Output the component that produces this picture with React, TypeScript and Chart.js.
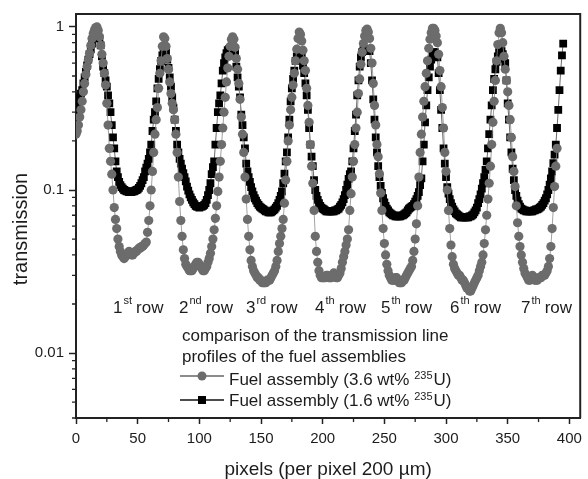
import React, { useEffect, useRef } from 'react';
import { Chart, registerables } from 'chart.js';

Chart.register(...registerables);

// transmission profile, 3.6 wt% 235U (grey circles), one value per detector pixel starting at pixel 0
const GRAY_36 = [
  0.22, 0.23, 0.25, 0.28, 0.31, 0.35, 0.40, 0.45, 0.51, 0.57,
  0.63, 0.69, 0.77, 0.85, 0.91, 0.96, 0.99, 1.0, 0.95, 0.87,
  0.77, 0.68, 0.6, 0.52, 0.44, 0.34, 0.25, 0.18, 0.15, 0.125,
  0.1, 0.078, 0.066, 0.058, 0.05, 0.045, 0.042, 0.040, 0.039, 0.038,
  0.039, 0.040, 0.041, 0.042, 0.041, 0.040, 0.040, 0.041, 0.042, 0.042,
  0.043, 0.044, 0.044, 0.045, 0.045, 0.046, 0.047, 0.048, 0.055, 0.065,
  0.08, 0.1, 0.13, 0.17, 0.22, 0.27, 0.32, 0.42, 0.52, 0.62,
  0.76, 0.87, 0.85, 0.76, 0.64, 0.55, 0.46, 0.39, 0.34, 0.31,
  0.27, 0.22, 0.17, 0.12, 0.085, 0.065, 0.052, 0.043, 0.038, 0.035,
  0.034, 0.033, 0.032, 0.032, 0.032, 0.033, 0.034, 0.035, 0.036, 0.036,
  0.035, 0.034, 0.033, 0.032, 0.032, 0.033, 0.034, 0.036, 0.038, 0.041,
  0.045, 0.05, 0.057, 0.067, 0.08, 0.098, 0.12, 0.15, 0.19, 0.24,
  0.3, 0.37, 0.46, 0.56, 0.66, 0.76, 0.84, 0.87, 0.84, 0.75,
  0.64, 0.55, 0.45, 0.36, 0.28, 0.22, 0.17, 0.12, 0.088, 0.066,
  0.052, 0.043, 0.037, 0.034, 0.032, 0.031, 0.030, 0.029, 0.029, 0.028,
  0.028, 0.027, 0.027, 0.027, 0.027, 0.028, 0.028, 0.028, 0.029, 0.030,
  0.031, 0.032, 0.034, 0.037, 0.042, 0.047, 0.052, 0.058, 0.066, 0.083,
  0.115, 0.15, 0.2, 0.25, 0.31, 0.37, 0.44, 0.52, 0.62, 0.73,
  0.85, 0.93, 0.9, 0.82, 0.72, 0.62, 0.54, 0.42, 0.33, 0.26,
  0.19, 0.14, 0.11, 0.075, 0.052, 0.042, 0.036, 0.032, 0.030, 0.029,
  0.029, 0.029, 0.029, 0.030, 0.030, 0.029, 0.029, 0.029, 0.030, 0.031,
  0.030, 0.029, 0.029, 0.030, 0.031, 0.033, 0.036, 0.039, 0.042, 0.046,
  0.05, 0.057, 0.075, 0.095, 0.12, 0.15, 0.19, 0.24, 0.3, 0.39,
  0.48, 0.59, 0.7, 0.79, 0.88, 0.95, 0.97, 0.93, 0.85, 0.74,
  0.6, 0.45, 0.33, 0.25, 0.19, 0.16, 0.126, 0.096, 0.075, 0.058,
  0.047, 0.04, 0.035, 0.032, 0.030, 0.029, 0.028, 0.028, 0.028, 0.029,
  0.029, 0.028, 0.027, 0.027, 0.027, 0.028, 0.028, 0.029, 0.030, 0.031,
  0.032, 0.033, 0.034, 0.037, 0.042, 0.05, 0.062, 0.08, 0.12, 0.17,
  0.22, 0.28, 0.35, 0.43, 0.52, 0.62, 0.74, 0.84, 0.92, 0.98,
  0.98, 0.95, 0.88, 0.8, 0.68, 0.54, 0.43, 0.32, 0.24, 0.17,
  0.13, 0.1, 0.075, 0.058, 0.046, 0.039, 0.035, 0.033, 0.032, 0.031,
  0.030, 0.030, 0.029, 0.028, 0.028, 0.027, 0.026, 0.025, 0.025, 0.024,
  0.024, 0.025, 0.026, 0.027, 0.028, 0.029, 0.030, 0.032, 0.034, 0.036,
  0.04, 0.047, 0.057, 0.07, 0.088, 0.11, 0.14, 0.19, 0.26, 0.35,
  0.47, 0.62, 0.78, 0.92, 0.98, 0.92, 0.8, 0.66, 0.55, 0.47,
  0.4, 0.33, 0.27, 0.21, 0.16, 0.13, 0.105, 0.08, 0.063, 0.052,
  0.045, 0.04, 0.036, 0.033, 0.031, 0.030, 0.029, 0.028, 0.028, 0.029,
  0.030, 0.029, 0.028, 0.028, 0.028, 0.029, 0.029, 0.029, 0.030, 0.030,
  0.030, 0.031, 0.032, 0.034, 0.038, 0.045, 0.058, 0.078, 0.105, 0.14,
  0.18,
];

// transmission profile, 1.6 wt% 235U (black squares), one value per detector pixel starting at pixel 0
const BLACK_16 = [
  0.30, 0.32, 0.34, 0.37, 0.39, 0.41, 0.45, 0.49, 0.53, 0.58,
  0.63, 0.68, 0.73, 0.79, 0.85, 0.91, 0.95, 0.97, 0.93, 0.85,
  0.77, 0.66, 0.57, 0.52, 0.47, 0.43, 0.38, 0.34, 0.3, 0.25,
  0.21, 0.18, 0.15, 0.13, 0.12, 0.112, 0.107, 0.104, 0.102, 0.1,
  0.099, 0.098, 0.098, 0.097, 0.097, 0.097, 0.098, 0.098, 0.099, 0.1,
  0.101, 0.103, 0.106, 0.11, 0.115, 0.12, 0.13, 0.137, 0.145, 0.155,
  0.17, 0.19, 0.23, 0.27, 0.3, 0.35, 0.42, 0.48, 0.55, 0.62,
  0.67, 0.72, 0.74, 0.7, 0.63, 0.56, 0.49, 0.43, 0.37, 0.32,
  0.27, 0.23, 0.19, 0.17, 0.155, 0.145, 0.135, 0.127, 0.12, 0.113,
  0.105, 0.099, 0.094, 0.09, 0.087, 0.084, 0.082, 0.080, 0.079, 0.079,
  0.078, 0.079, 0.079, 0.080, 0.081, 0.083, 0.087, 0.093, 0.1, 0.11,
  0.125, 0.138, 0.15, 0.19, 0.24, 0.3, 0.34, 0.38, 0.45, 0.54,
  0.6, 0.65, 0.69, 0.72, 0.73, 0.73, 0.73, 0.72, 0.71, 0.69,
  0.57, 0.49, 0.43, 0.37, 0.29, 0.25, 0.21, 0.18, 0.145, 0.13,
  0.12, 0.112, 0.104, 0.098, 0.093, 0.089, 0.086, 0.083, 0.081, 0.079,
  0.078, 0.077, 0.076, 0.075, 0.074, 0.074, 0.073, 0.073, 0.073, 0.074,
  0.075, 0.076, 0.078, 0.08, 0.083, 0.087, 0.092, 0.098, 0.11, 0.126,
  0.15, 0.17, 0.21, 0.27, 0.35, 0.42, 0.48, 0.54, 0.62, 0.66,
  0.68, 0.69, 0.68, 0.65, 0.58, 0.52, 0.45, 0.38, 0.31, 0.24,
  0.19, 0.16, 0.14, 0.115, 0.1, 0.092, 0.087, 0.083, 0.08, 0.078,
  0.077, 0.076, 0.075, 0.074, 0.074, 0.074, 0.074, 0.074, 0.074, 0.074,
  0.075, 0.075, 0.076, 0.077, 0.079, 0.081, 0.084, 0.088, 0.093, 0.1,
  0.108, 0.117, 0.125, 0.13, 0.15, 0.18, 0.23, 0.29, 0.38, 0.47,
  0.57, 0.65, 0.7, 0.72, 0.73, 0.73, 0.73, 0.73, 0.71, 0.6,
  0.47, 0.36, 0.27, 0.21, 0.17, 0.14, 0.12, 0.106, 0.096, 0.089,
  0.084, 0.08, 0.077, 0.075, 0.073, 0.072, 0.071, 0.070, 0.070, 0.069,
  0.069, 0.069, 0.069, 0.069, 0.070, 0.070, 0.071, 0.072, 0.073, 0.075,
  0.077, 0.078, 0.079, 0.080, 0.082, 0.085, 0.088, 0.092, 0.097, 0.107,
  0.118, 0.15, 0.19, 0.26, 0.33, 0.41, 0.49, 0.57, 0.63, 0.68,
  0.7, 0.7, 0.68, 0.65, 0.52, 0.41, 0.31, 0.24, 0.18, 0.145,
  0.12, 0.104, 0.095, 0.088, 0.083, 0.079, 0.076, 0.074, 0.072, 0.071,
  0.070, 0.069, 0.068, 0.068, 0.068, 0.068, 0.068, 0.068, 0.068, 0.069,
  0.069, 0.070, 0.071, 0.073, 0.075, 0.078, 0.083, 0.088, 0.094, 0.102,
  0.11, 0.12, 0.133, 0.15, 0.18, 0.22, 0.27, 0.33, 0.41, 0.48,
  0.55, 0.61, 0.66, 0.7, 0.72, 0.71, 0.68, 0.64, 0.6, 0.47,
  0.34, 0.27, 0.21, 0.17, 0.135, 0.115, 0.1, 0.092, 0.086, 0.082,
  0.079, 0.077, 0.076, 0.075, 0.075, 0.074, 0.074, 0.074, 0.074, 0.074,
  0.074, 0.075, 0.075, 0.076, 0.076, 0.077, 0.078, 0.079, 0.081, 0.083,
  0.086, 0.089, 0.094, 0.1, 0.108, 0.118, 0.13, 0.146, 0.165, 0.19,
  0.24, 0.31, 0.41, 0.54, 0.67, 0.79,
];

const X_TICKS = [0, 25, 50, 75, 100, 125, 150, 175, 200, 225, 250, 275, 300, 325, 350, 375, 400];
const X_LABELED = [0, 50, 100, 150, 200, 250, 300, 350, 400];
const Y_TICKS = [
  0.004, 0.005, 0.006, 0.007, 0.008, 0.009,
  0.01, 0.02, 0.03, 0.04, 0.05, 0.06, 0.07, 0.08, 0.09,
  0.1, 0.2, 0.3, 0.4, 0.5, 0.6, 0.7, 0.8, 0.9, 1,
];
const Y_LABELED = [0.01, 0.1, 1];

const X_TITLE = 'pixels (per pixel 200 µm)';
const Y_TITLE = 'transmission';
const ROW_NUMBERS = ['1', '2', '3', '4', '5', '6', '7'];
const ROW_SUFFIXES = ['st', 'nd', 'rd', 'th', 'th', 'th', 'th'];
const ROW_WORD = 'row';
const LEGEND_TITLE = ['comparison of the transmission line', 'profiles of the fuel assemblies'];
const SERIES_LABELS = [
  ['Fuel assembly (3.6 wt% ', '235', 'U)'],
  ['Fuel assembly (1.6 wt% ', '235', 'U)'],
];

const FONT = "'Liberation Sans', Arial, Helvetica, sans-serif";
const INK = '#1c1c1c';
const GREY = '#6c6c6c';

const annotations = {
  id: 'annotations',
  afterDraw(chart: any) {
    const { ctx, chartArea: a, scales } = chart;
    const xs = scales.x;
    const ys = scales.y;
    ctx.save();
    // frame top + right
    ctx.strokeStyle = '#222';
    ctx.lineWidth = 2;
    ctx.beginPath();
    ctx.moveTo(a.left, a.top);
    ctx.lineTo(a.right, a.top);
    ctx.lineTo(a.right, a.bottom);
    ctx.stroke();
    // minor ticks
    ctx.lineWidth = 1.3;
    ctx.beginPath();
    X_TICKS.forEach((v) => {
      if (X_LABELED.includes(v)) return;
      const p = xs.getPixelForValue(v);
      ctx.moveTo(p, a.bottom);
      ctx.lineTo(p, a.bottom + 4);
    });
    Y_TICKS.forEach((v) => {
      if (Y_LABELED.includes(v)) return;
      const p = ys.getPixelForValue(v);
      ctx.moveTo(a.left - 4, p);
      ctx.lineTo(a.left, p);
    });
    ctx.stroke();

    ctx.fillStyle = INK;
    ctx.textAlign = 'left';
    ctx.textBaseline = 'alphabetic';

    // row labels
    const rowX = [113, 179, 246, 315, 381, 450, 521];
    ROW_NUMBERS.forEach((n, i) => {
      let x = rowX[i];
      ctx.font = `17px ${FONT}`;
      ctx.fillText(n, x, 313);
      x += ctx.measureText(n).width + 1;
      ctx.font = `11px ${FONT}`;
      ctx.fillText(ROW_SUFFIXES[i], x, 304);
      x += ctx.measureText(ROW_SUFFIXES[i]).width + 4;
      ctx.font = `17px ${FONT}`;
      ctx.fillText(ROW_WORD, x, 313);
    });

    // legend
    ctx.font = `17px ${FONT}`;
    ctx.fillText(LEGEND_TITLE[0], 182, 341);
    ctx.fillText(LEGEND_TITLE[1], 182, 362);
    const entryBase = [385, 406];
    const markY = [376, 400];
    SERIES_LABELS.forEach((parts, i) => {
      const my = markY[i];
      ctx.strokeStyle = i === 0 ? '#666' : '#111';
      ctx.lineWidth = 1.4;
      ctx.beginPath();
      ctx.moveTo(180, my);
      ctx.lineTo(224, my);
      ctx.stroke();
      ctx.fillStyle = i === 0 ? GREY : '#000';
      if (i === 0) {
        ctx.beginPath();
        ctx.arc(202, my, 4.5, 0, Math.PI * 2);
        ctx.fill();
      } else {
        ctx.fillRect(198, my - 4, 8, 8);
      }
      ctx.fillStyle = INK;
      let x = 229;
      const b = entryBase[i];
      ctx.font = `17px ${FONT}`;
      ctx.fillText(parts[0], x, b);
      x += ctx.measureText(parts[0]).width;
      ctx.font = `11px ${FONT}`;
      ctx.fillText(parts[1], x, b - 6);
      x += ctx.measureText(parts[1]).width + 1;
      ctx.font = `17px ${FONT}`;
      ctx.fillText(parts[2], x, b);
    });

    // axis titles
    ctx.font = `19px ${FONT}`;
    ctx.textAlign = 'center';
    ctx.fillText(X_TITLE, (a.left + a.right) / 2, 475);
    ctx.save();
    ctx.translate(27, 229);
    ctx.rotate(-Math.PI / 2);
    ctx.font = `20px ${FONT}`;
    ctx.fillText(Y_TITLE, 0, 0);
    ctx.restore();
    ctx.restore();
  },
};

export default function App() {
  const ref = useRef<HTMLCanvasElement | null>(null);

  useEffect(() => {
    if (!ref.current) return;
    const chart = new Chart(ref.current, {
      type: 'line',
      data: {
        datasets: [
          {
            label: SERIES_LABELS[0].join(''),
            data: GRAY_36.map((v, i) => ({ x: i, y: v })),
            borderColor: '#8a8a8a',
            borderWidth: 0.8,
            backgroundColor: GREY,
            pointStyle: 'circle',
            pointRadius: 4.6,
            pointBorderWidth: 0,
            pointBackgroundColor: GREY,
            fill: false,
            tension: 0,
          },
          {
            label: SERIES_LABELS[1].join(''),
            data: BLACK_16.map((v, i) => ({ x: i, y: v })),
            borderColor: '#444',
            borderWidth: 0.8,
            backgroundColor: '#000',
            pointStyle: 'rect',
            pointRadius: 5.5,
            pointBorderWidth: 0,
            pointBackgroundColor: '#000',
            fill: false,
            tension: 0,
          },
        ],
      },
      options: {
        responsive: false,
        animation: false,
        devicePixelRatio: 1,
        layout: { padding: { top: 14, right: 2, left: 0, bottom: 0 } },
        plugins: { legend: { display: false }, tooltip: { enabled: false } },
        scales: {
          x: {
            type: 'linear',
            position: 'bottom',
            min: 0,
            max: 408.8,
            afterFit: (s: any) => { s.height = 61; },
            afterBuildTicks: (s: any) => { s.ticks = X_TICKS.map((v) => ({ value: v })); },
            ticks: {
              autoSkip: false,
              maxRotation: 0,
              padding: 6,
              color: INK,
              font: { family: FONT, size: 15 },
              callback: (v: any) => (X_LABELED.includes(Number(v)) ? String(v) : ''),
            },
            grid: {
              display: true,
              drawOnChartArea: false,
              drawTicks: true,
              tickLength: 6,
              tickWidth: 1.5,
              tickColor: (c: any) => (c.tick && X_LABELED.includes(c.tick.value) ? '#222' : 'rgba(0,0,0,0)'),
            },
            border: { display: true, color: '#222', width: 2 },
          },
          y: {
            type: 'logarithmic',
            min: 0.004,
            max: 1.2,
            afterFit: (s: any) => { s.width = 76; },
            afterBuildTicks: (s: any) => { s.ticks = Y_TICKS.map((v) => ({ value: v })); },
            ticks: {
              autoSkip: false,
              padding: 5,
              color: INK,
              font: { family: FONT, size: 15 },
              callback: (v: any) => {
                const n = Number(v);
                const hit = Y_LABELED.find((t) => Math.abs(t - n) / t < 1e-6);
                return hit !== undefined ? String(hit) : '';
              },
            },
            grid: {
              display: true,
              drawOnChartArea: false,
              drawTicks: true,
              tickLength: 7,
              tickWidth: 1.5,
              tickColor: (c: any) =>
                c.tick && Y_LABELED.some((t) => Math.abs(t - c.tick.value) / t < 1e-6) ? '#222' : 'rgba(0,0,0,0)',
            },
            border: { display: true, color: '#222', width: 2 },
          },
        },
      },
      plugins: [annotations],
    });
    return () => chart.destroy();
  }, []);

  return (
    <div style={{ position: 'fixed', left: 0, top: 0, width: 588, height: 479, background: '#fff' }}>
      <canvas ref={ref} width={588} height={479} style={{ display: 'block' }} />
    </div>
  );
}
